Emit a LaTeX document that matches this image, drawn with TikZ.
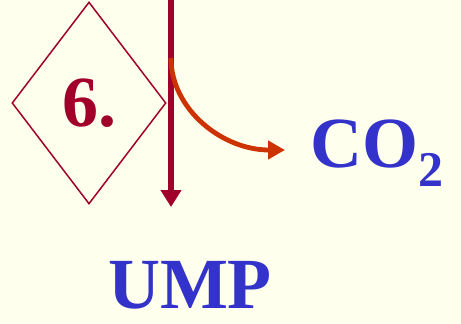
\documentclass[tikz,border=0pt]{standalone}
\usepackage{fontspec}
\setmainfont{Liberation Serif}
\usetikzlibrary{arrows.meta,shapes.geometric}
\definecolor{paper}{HTML}{FFFFEE}
\definecolor{wine}{HTML}{A0002A}
\definecolor{rust}{HTML}{CC3300}
\definecolor{chem}{HTML}{3333CC}
\tikzset{stepbox/.style={draw=wine,line width=1.5pt,shape=diamond,minimum width=154pt,minimum height=202pt,inner sep=0pt,font=\fontsize{72}{72}\selectfont\bfseries,text=wine},flow/.style={draw=wine,line width=5.5pt,-{Triangle[width=20pt,length=17pt]}},lost/.style={draw=rust,line width=4.8pt,-{Triangle[width=18pt,length=17pt]}},chemlabel/.style={inner sep=0pt,font=\fontsize{72}{72}\selectfont\bfseries,text=chem}}

\begin{document}
\begin{tikzpicture}[x=1pt,y=-1pt]
\fill[paper] (0,0) rectangle (461,324);
\useasboundingbox (0,0) rectangle (461,324);
% Step number in its diamond.
\node[stepbox] (step6) at (89,103) {\raisebox{-3pt}{6.}};
% Main flow down towards UMP, with the CO2 branch.
\coordinate (top) at (171,0);
\coordinate (end) at (171,207);
\coordinate (branch) at (171,58);
\coordinate (cotip) at (285,150);
\draw[flow] (top)--(end);
\draw[lost] (branch) .. controls (171,109) and (222,150) .. (cotip);
% Products.
\node[chemlabel,anchor=base west] (co2) at (310,167) {CO\raisebox{-19pt}{\fontsize{50}{50}\selectfont 2}};
\node[chemlabel] (ump) at (190,285) {UMP};
\end{tikzpicture}
\end{document}
